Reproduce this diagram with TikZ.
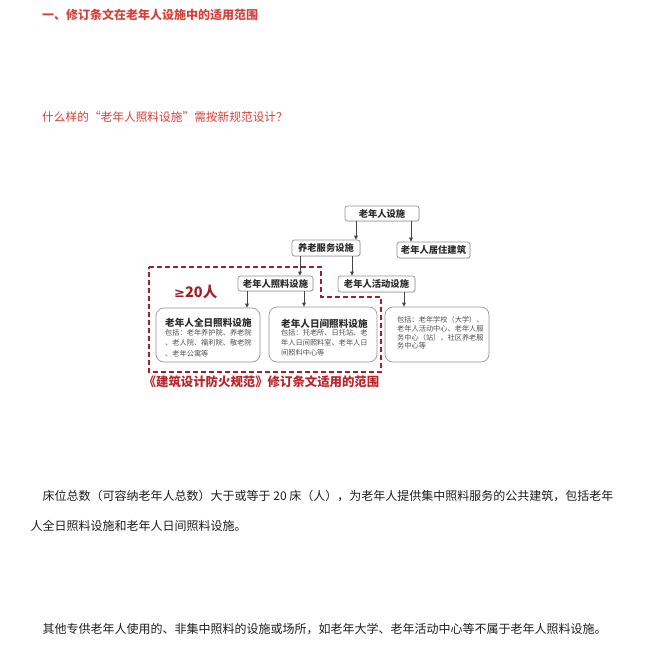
\documentclass[tikz,border=0pt]{standalone}
\usepackage{fontspec}
\setmainfont{Noto Sans CJK SC}
\newfontfamily\dejavu{DejaVu Sans}
\usetikzlibrary{arrows.meta,shadows}
\definecolor{headred}{RGB}{214,64,58}
\definecolor{darkred}{RGB}{160,32,40}
\definecolor{capred}{RGB}{185,36,43}
\definecolor{boxgray}{RGB}{150,150,150}
\definecolor{txtdark}{RGB}{45,45,45}
\definecolor{descgray}{RGB}{80,80,80}
\definecolor{arrgray}{RGB}{70,70,70}
\definecolor{bodytxt}{RGB}{30,30,30}
\begin{document}
\begin{tikzpicture}[x=1pt,y=-1pt,
  smallbox/.style={draw=boxgray, fill=white, rounded corners=2.5pt, line width=0.7pt, inner sep=0pt,
    font=\fontsize{9.3}{11}\selectfont\bfseries, text=txtdark,
    drop shadow={opacity=0.18, shadow xshift=0.8pt, shadow yshift=-0.8pt}},
  bigbox/.style={draw=boxgray, fill=white, rounded corners=8pt, line width=0.7pt, inner sep=0pt},
  arr/.style={draw=arrgray, line width=0.9pt, -{Triangle[length=4pt,width=3.6pt]}},
  boxtitle/.style={anchor=west, inner sep=0pt, font=\fontsize{9.6}{11}\selectfont\bfseries, text=txtdark},
  desc/.style={anchor=west, inner sep=0pt, font=\fontsize{7.2}{8}\selectfont, text=descgray},
  body/.style={anchor=west, inner sep=0pt, font=\fontsize{12}{14}\selectfont, text=bodytxt},
  zone/.style={draw=darkred, line width=1.8pt, dash pattern=on 5pt off 3pt}
]
\useasboundingbox (0,0) rectangle (665,662);
\fill[white] (0,0) rectangle (665,662);

% headings
\node[anchor=west, inner sep=0pt, font=\fontsize{12}{14}\selectfont\bfseries, text=headred] (h1) at (42,14.5) {一、修订条文在老年人设施中的适用范围};
\node[anchor=west, inner sep=0pt, font=\fontsize{11.7}{14}\selectfont, text=headred] (h2) at (42,117) {什么样的“老年人照料设施”需按新规范设计？};

% dashed scope region
\draw[zone] (149,267) -- (321,267) -- (321,297) -- (381,297) -- (381,372) -- (149,372) -- cycle;

% small boxes
\node[smallbox, minimum width=74pt, minimum height=15pt] (A) at (382,213.5) {老年人设施};
\node[smallbox, minimum width=73pt, minimum height=16pt] (C) at (433.5,250) {老年人居住建筑};
\node[smallbox, minimum width=68pt, minimum height=16pt] (B) at (326,248) {养老服务设施};
\node[smallbox, minimum width=77pt, minimum height=16pt] (E) at (376.5,284) {老年人活动设施};
\node[smallbox, minimum width=75pt, minimum height=15pt] (D) at (275.5,283.5) {老年人照料设施};

% big boxes
\node[bigbox, minimum width=104pt, minimum height=54pt] (F) at (208,335) {};
\node[bigbox, minimum width=108pt, minimum height=55pt] (G) at (323,334.5) {};
\node[bigbox, minimum width=104pt, minimum height=55pt] (H) at (437,334.5) {};

% box texts
\node[boxtitle] (f0) at (165,323) {老年人全日照料设施};
\node[desc] (f1) at (165,332.5) {包括：老年养护院、养老院};
\node[desc] (f2) at (165,343) {、老人院、福利院、敬老院};
\node[desc] (f3) at (165,353.5) {、老年公寓等};

\node[boxtitle] (g0) at (281,323.5) {老年人日间照料设施};
\node[desc] (g1) at (281,332.5) {包括：托老所、日托站、老};
\node[desc] (g2) at (281,342.5) {年人日间照料室、老年人日};
\node[desc] (g3) at (281,352.5) {间照料中心等};

\node[desc] (h1d) at (397,320) {包括：老年学校（大学）、};
\node[desc] (h2d) at (397,328.7) {老年人活动中心、老年人服};
\node[desc] (h3d) at (397,337.3) {务中心（站），社区养老服};
\node[desc] (h4d) at (397,346) {务中心等};

% arrows
\draw[arr] ([xshift=-26pt]A.south) -- ([xshift=30pt]B.north);
\draw[arr] ([xshift=29pt]A.south) -- ([xshift=-22.5pt]C.north);
\draw[arr] ([xshift=-26pt]B.south) -- ([xshift=24.5pt]D.north);
\draw[arr] ([xshift=26pt]B.south) -- ([xshift=-24.5pt]E.north);
\draw[arr] ([xshift=-28.5pt]D.south) -- ([xshift=39pt]F.north);
\draw[arr] ([xshift=28.5pt]D.south) -- ([xshift=-19pt]G.north);
\draw[arr] ([xshift=27.5pt]E.south) -- ([xshift=-33pt]H.north);

% labels
\node[anchor=west, inner sep=0pt, font=\fontsize{14.5}{16}\selectfont\bfseries, text=darkred] (ge) at (174,292) {{\dejavu\fontsize{13}{16}\selectfont\bfseries ≥}20人};
\node[inner sep=0pt, font=\fontsize{12.4}{14}\selectfont\bfseries, text=capred] (cap) at (261.5,382) {《建筑设计防火规范》修订条文适用的范围};

% body text
\node[body] (b1) at (42.5,496) {床位总数（可容纳老年人总数）大于或等于 20 床（人），为老年人提供集中照料服务的公共建筑，包括老年};
\node[body] (b2) at (30.5,526) {人全日照料设施和老年人日间照料设施。};
\node[body] (b3) at (42.5,629) {其他专供老年人使用的、非集中照料的设施或场所，如老年大学、老年活动中心等不属于老年人照料设施。};
\end{tikzpicture}
\end{document}
